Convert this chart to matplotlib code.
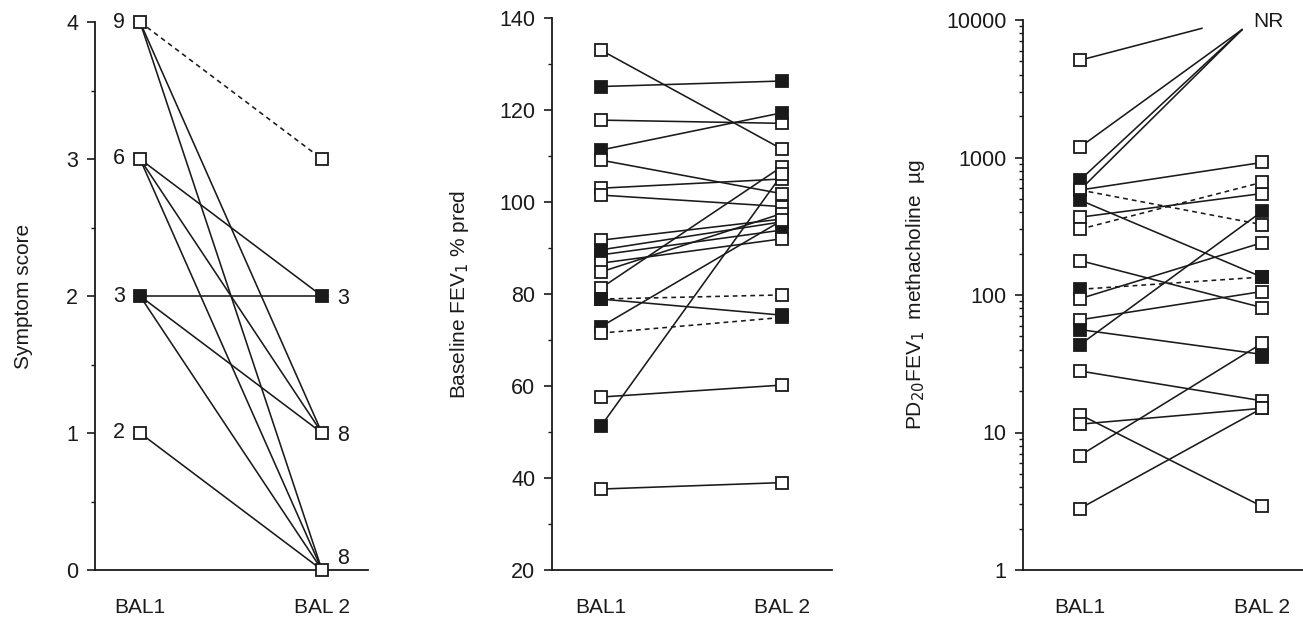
import numpy as np
import matplotlib
matplotlib.use('Agg')
import matplotlib.pyplot as plt
from matplotlib.ticker import FixedLocator, NullFormatter, LogLocator

plt.rcParams['font.family'] = ['Liberation Sans', 'DejaVu Sans']

# ---------------- Panel 1: symptom score (transitions) ----------------
sym_bal1_levels = [4, 3, 2, 1]
sym_bal1_counts = ['9', '6', '3', '2']
sym_bal1_filled = [False, False, True, False]
sym_bal2_levels = [3, 2, 1, 0]
sym_bal2_counts = ['', '3', '8', '8']
sym_bal2_filled = [False, True, False, False]
sym_from = [4, 4, 4, 3, 3, 3, 2, 2, 2, 1]
sym_to = [3, 1, 0, 2, 1, 0, 2, 1, 0, 0]
sym_dashed = [True, False, False, False, False, False, False, False, False, False]

# ---------------- Panel 2: baseline FEV1 % pred ----------------
fev_bal1 = [133.0, 125.1, 117.8, 111.3, 109.1, 103.0, 101.5, 91.7, 89.6, 88.5,
            86.7, 84.8, 81.3, 78.9, 78.9, 72.9, 71.5, 57.6, 51.3, 37.6]
fev_bal2 = [111.5, 126.3, 117.1, 119.4, 101.8, 105.0, 99.0, 96.3, 95.7, 93.9,
            92.0, 97.5, 107.7, 79.8, 75.4, 96.0, 74.9, 60.2, 106.0, 39.0]
fev_fill1 = [0, 1, 0, 1, 0, 0, 0, 0, 1, 1, 0, 0, 0, 1, 1, 1, 0, 0, 1, 0]
fev_fill2 = [0, 1, 0, 1, 0, 0, 0, 0, 0, 1, 0, 0, 0, 0, 1, 0, 1, 0, 0, 0]
fev_dashed = [0, 0, 0, 0, 0, 0, 0, 0, 0, 0, 0, 0, 0, 1, 0, 0, 1, 0, 0, 0]

# ---------------- Panel 3: PD20FEV1 methacholine ----------------
# None = no response (NR) at BAL 2
pd_bal1 = [5100, 1190, 686, 580, 580, 580, 490, 368, 301, 178, 110, 94, 66, 56,
           43.5, 28, 13.5, 11.5, 6.8, 2.8]
pd_bal2 = [None, None, None, None, 920, 325, 135, 547, 660, 81, 135, 240, 106, 37,
           405, 17, 2.9, 15, 44.5, 15]
pd_fill1 = [0, 0, 1, 0, 0, 0, 1, 0, 0, 0, 1, 0, 0, 1, 1, 0, 0, 0, 0, 0]
pd_fill2 = [0, 0, 0, 0, 0, 0, 1, 0, 0, 0, 1, 0, 0, 1, 1, 0, 0, 0, 0, 0]
pd_dashed = [0, 0, 0, 0, 0, 1, 0, 0, 1, 0, 1, 0, 0, 0, 0, 0, 0, 0, 0, 0]
pd_extra_bal2 = [35.5]               # additional filled marker at BAL 2
pd_nr_end_x = [0.67, 0.89, 0.89, 0.89]
pd_nr_end_y = [8700, 8500, 8500, 8500]

x_labels = ['BAL1', 'BAL 2']

FS = 15
TFS = 15.5
LW = 1.15
MS = 8.5
MEW = 1.3
INK = '#1a1a1a'


def marker(ax, x, y, filled):
    ax.plot([x], [y], 's', ms=MS, mew=MEW, mec=INK,
            mfc=INK if filled else 'white', zorder=5, clip_on=False)


def line(ax, x0, y0, x1, y1, dashed):
    ax.plot([x0, x1], [y0, y1], color=INK, lw=LW,
            ls=(0, (3, 2.5)) if dashed else '-', zorder=3, clip_on=False)


def style(ax, xlim):
    ax.set_xlim(*xlim)
    for s in ['top', 'right']:
        ax.spines[s].set_visible(False)
    for s in ['left', 'bottom']:
        ax.spines[s].set_linewidth(1.3)
        ax.spines[s].set_color(INK)
    ax.set_xticks([0, 1])
    ax.set_xticklabels(x_labels, fontsize=FS)
    ax.tick_params(axis='x', length=0, pad=20, colors=INK)
    ax.tick_params(axis='y', which='major', length=6, width=1.2, pad=6,
                   labelsize=TFS, direction='out', colors=INK)
    ax.tick_params(axis='y', which='minor', length=3, width=1.0,
                   direction='out', colors=INK)


fig = plt.figure(figsize=(13.03, 6.24), dpi=100)
bottom = 1 - 570 / 624

# ---- Panel 1 ----
ax1 = fig.add_axes([95 / 1303, bottom, 273 / 1303, 548 / 624])
style(ax1, (-45 / 182, 1 + 46 / 182))
ax1.set_ylim(0, 4)
ax1.set_yticks([0, 1, 2, 3, 4])
ax1.yaxis.set_minor_locator(FixedLocator([0.5, 1.5, 2.5, 3.5]))
for f, t, d in zip(sym_from, sym_to, sym_dashed):
    line(ax1, 0, f, 1, t, d)
for lv, c, fl in zip(sym_bal1_levels, sym_bal1_counts, sym_bal1_filled):
    marker(ax1, 0, lv, fl)
    ax1.annotate(c, (0, lv), xytext=(-11, 0), textcoords='offset points',
                 ha='right', va='center', fontsize=TFS, color=INK)
for lv, c, fl in zip(sym_bal2_levels, sym_bal2_counts, sym_bal2_filled):
    marker(ax1, 1, lv, fl)
    dy = 8 if lv == 0 else -2
    ax1.annotate(c, (1, lv), xytext=(11, dy), textcoords='offset points',
                 ha='left', va='center', fontsize=TFS, color=INK)
ax1.set_ylabel('Symptom score', fontsize=FS, labelpad=24, color=INK)

# ---- Panel 2 ----
ax2 = fig.add_axes([552 / 1303, bottom, 280 / 1303, 552 / 624])
style(ax2, (-49 / 181, 1 + 50 / 181))
ax2.set_ylim(20, 140)
ax2.set_yticks(np.arange(20, 141, 20))
ax2.yaxis.set_minor_locator(FixedLocator(np.arange(30, 140, 20)))
for a, b, d in zip(fev_bal1, fev_bal2, fev_dashed):
    line(ax2, 0, a, 1, b, d)
for a, b, f1, f2 in zip(fev_bal1, fev_bal2, fev_fill1, fev_fill2):
    marker(ax2, 0, a, f1)
    marker(ax2, 1, b, f2)
ax2.set_ylabel('Baseline FEV$_1$ % pred', fontsize=FS, labelpad=20, color=INK)

# ---- Panel 3 ----
ax3 = fig.add_axes([1023 / 1303, bottom, 280 / 1303, 550 / 624])
style(ax3, (-57 / 182, 1 + 41 / 182))
ax3.set_yscale('log')
ax3.set_ylim(1, 10000)
ax3.set_yticks([1, 10, 100, 1000, 10000])
ax3.set_yticklabels(['1', '10', '100', '1000', '10000'])
ax3.yaxis.set_minor_locator(LogLocator(base=10, subs=np.arange(2, 10)))
ax3.yaxis.set_minor_formatter(NullFormatter())
nr_i = 0
for a, b, d in zip(pd_bal1, pd_bal2, pd_dashed):
    if b is None:
        line(ax3, 0, a, pd_nr_end_x[nr_i], pd_nr_end_y[nr_i], d)
        nr_i += 1
    else:
        line(ax3, 0, a, 1, b, d)
for a, b, f1, f2 in zip(pd_bal1, pd_bal2, pd_fill1, pd_fill2):
    marker(ax3, 0, a, f1)
    if b is not None:
        marker(ax3, 1, b, f2)
for v in pd_extra_bal2:
    marker(ax3, 1, v, 1)
ax3.text(0.95, 9800, 'NR', fontsize=FS, ha='left', va='center', color=INK)
ax3.set_ylabel('PD$_{20}$FEV$_1$  methacholine  µg', fontsize=FS, labelpad=14,
               color=INK)

fig.savefig('out.png', dpi=100)
